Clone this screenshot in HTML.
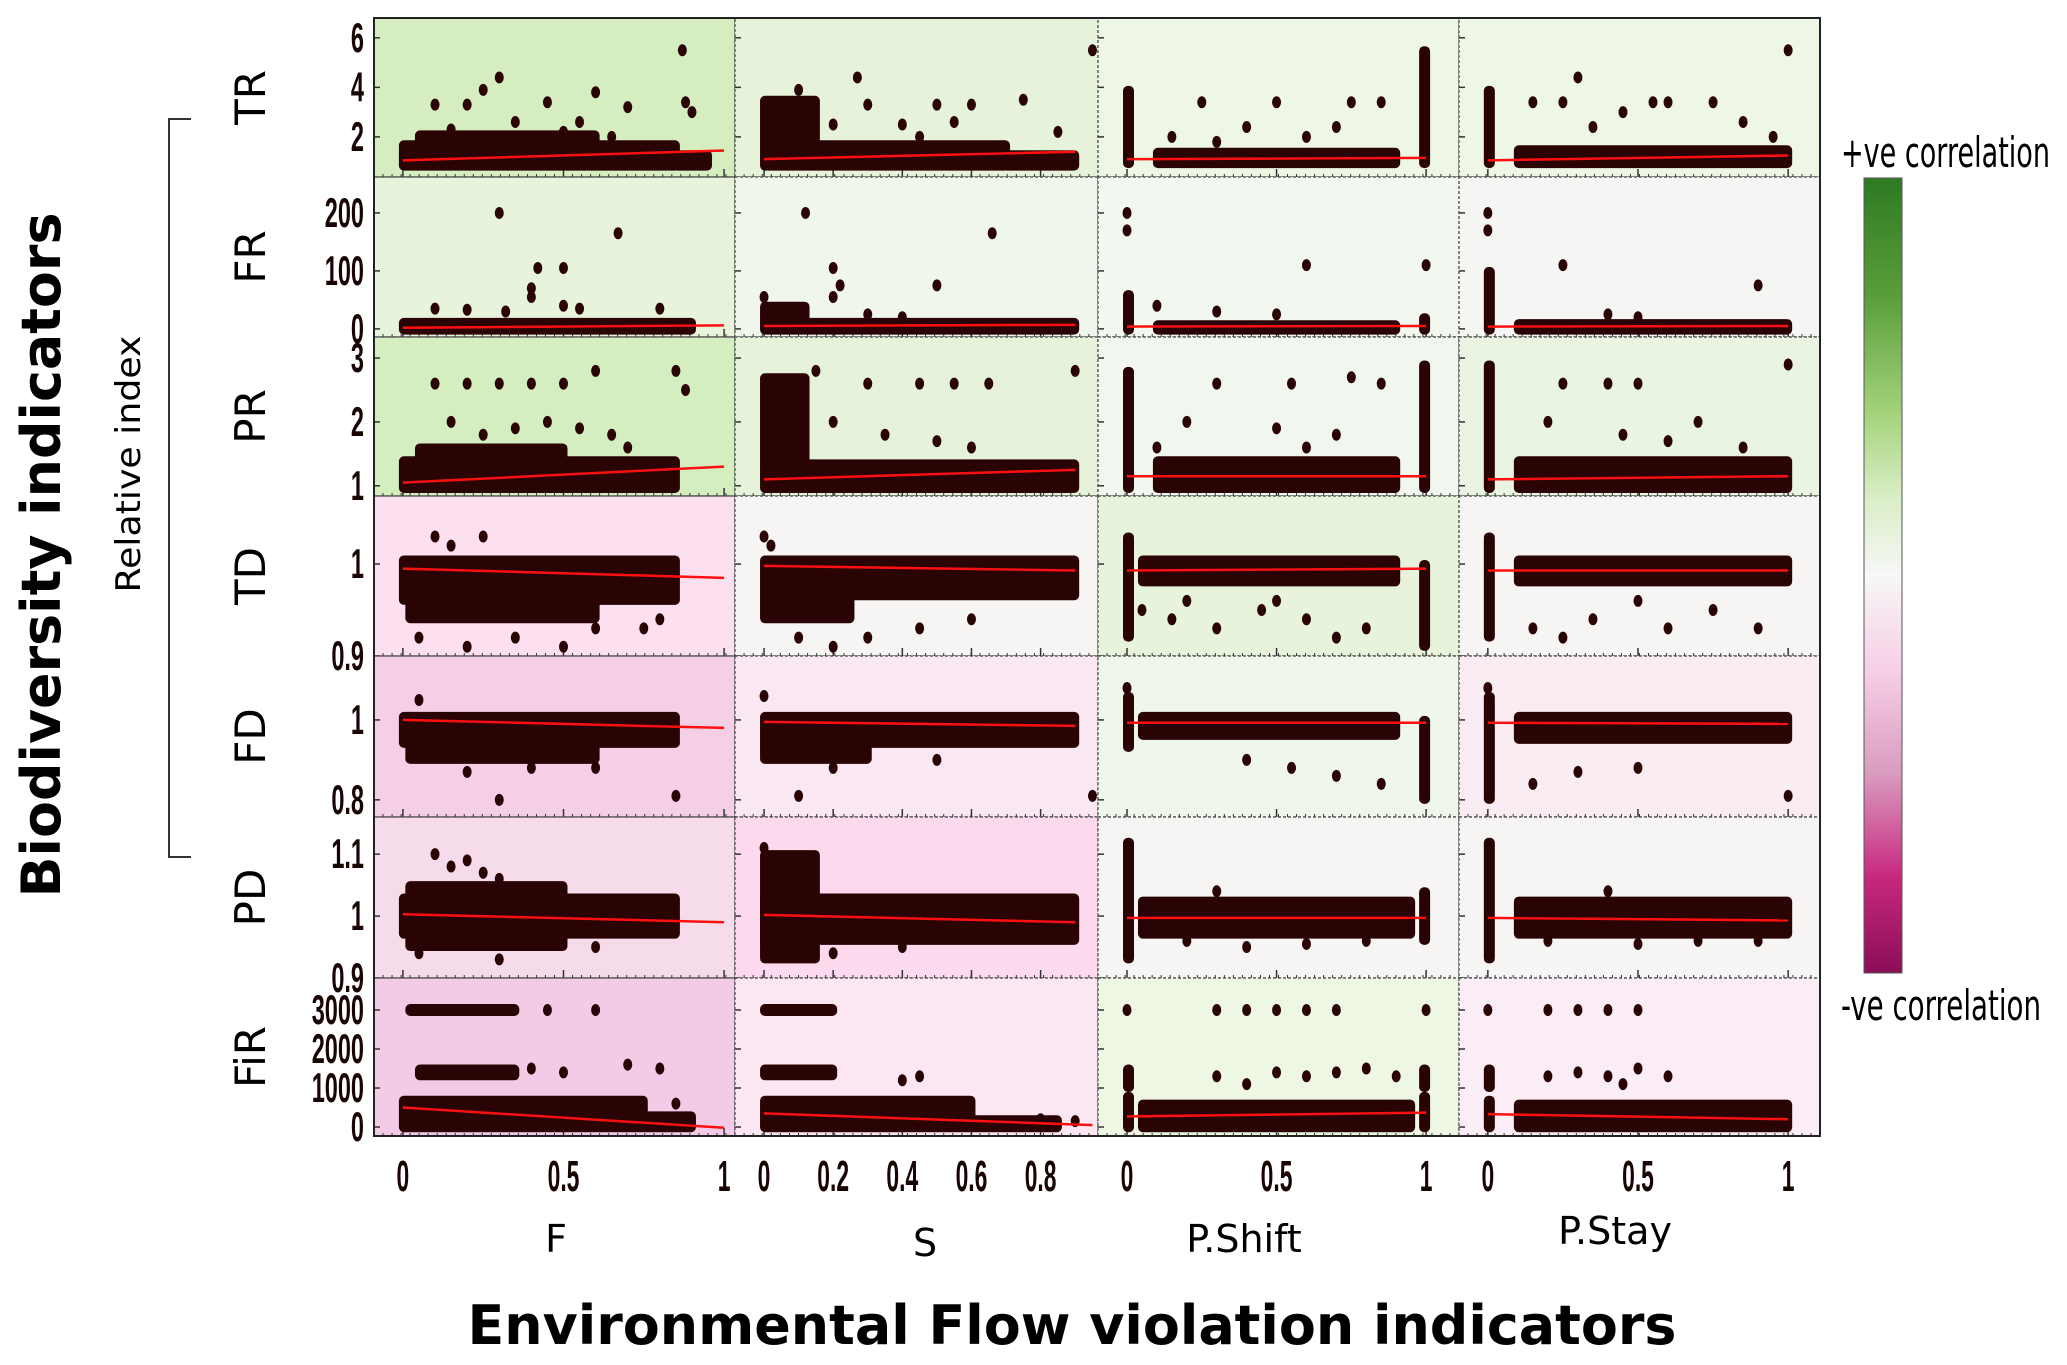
<!DOCTYPE html>
<html><head><meta charset="utf-8"><style>
html,body{margin:0;padding:0;background:#fff;}
svg{display:block;}
text{font-family:"Liberation Sans",sans-serif;}
</style></head><body>
<svg id="chart" width="2067" height="1365" viewBox="0 0 2067 1365">
<defs>
<linearGradient id="cbar" x1="0" y1="0" x2="0" y2="1">
<stop offset="0" stop-color="#2e7a22"/><stop offset="0.15" stop-color="#5a9e3a"/><stop offset="0.3" stop-color="#a6d47e"/><stop offset="0.4" stop-color="#d8edc4"/><stop offset="0.5" stop-color="#f7f7f7"/><stop offset="0.62" stop-color="#f7cfe6"/><stop offset="0.75" stop-color="#d99bbf"/><stop offset="0.88" stop-color="#c8287f"/><stop offset="1" stop-color="#8a0e56"/>
</linearGradient>
</defs>
<g id="plots"></g>
<rect x="1864" y="178" width="38" height="795" fill="url(#cbar)" stroke="#555" stroke-width="1"/>
<text x="1841" y="167" font-size="42" textLength="209" lengthAdjust="spacingAndGlyphs" style="font-family:'DejaVu Sans',sans-serif">+ve correlation</text>
<text x="1841" y="1020" font-size="42" textLength="200" lengthAdjust="spacingAndGlyphs" style="font-family:'DejaVu Sans',sans-serif">-ve correlation</text>
<text x="0" y="0" font-size="54" font-weight="bold" textLength="685" lengthAdjust="spacingAndGlyphs" style="font-family:'DejaVu Sans',sans-serif" transform="translate(60 555) rotate(-90)" text-anchor="middle">Biodiversity indicators</text>
<text x="0" y="0" font-size="34" textLength="257" lengthAdjust="spacingAndGlyphs" style="font-family:'DejaVu Sans',sans-serif" transform="translate(140 464) rotate(-90)" text-anchor="middle">Relative index</text>
<path d="M191 119 H169 V857 H191" fill="none" stroke="#333" stroke-width="2"/>
<text x="1072" y="1344" font-size="54" font-weight="bold" text-anchor="middle" textLength="1209" lengthAdjust="spacingAndGlyphs" style="font-family:'DejaVu Sans',sans-serif">Environmental Flow violation indicators</text>
</svg>
<script>
const rowNames = ["TR","FR","PR","TD","FD","PD","FiR"];
const colNames = ["F","S","P.Shift","P.Stay"];
const yDomains = [[0.38,6.8],[-14,262],[0.84,3.33],[0.9,1.074],[0.757,1.16],[0.9,1.16],[-230,3820]];
const xDomains = [[-0.09,1.034],[-0.084,0.966],[-0.097,1.11],[-0.096,1.106]];
const yTicks = [[2,4,6],[0,100,200],[1,2,3],[0.9,1],[0.8,1],[0.9,1,1.1],[0,1000,2000,3000]];
const xTicks = [[0,0.5,1],[0,0.2,0.4,0.6,0.8],[0,0.5,1],[0,0.5,1]];
const bgColors = [
 ["#d6edc0","#e6f2da","#eef6e6","#eef6e6"],
 ["#e8f3dc","#f0f6ec","#f2f7ef","#f5f5f3"],
 ["#d5eebf","#e6f2da","#f1f7ee","#eaf4e2"],
 ["#fde0f0","#f6f5f3","#e8f3dc","#f6f5f3"],
 ["#f4cfe5","#f9e8f2","#eff6ea","#f9ecf3"],
 ["#f6dcea","#fcd9ec","#f6f5f3","#f6f5f3"],
 ["#f3cbe6","#fce6f1","#eef7e4","#fbedf5"]];
// trend lines [x0,y0,x1,y1]
const trends = [
 [[0,1.05,1,1.45],[0,1.1,0.9,1.4],[0,1.1,1,1.15],[0,1.05,1,1.25]],
 [[0,2,1,6],[0,5,0.9,7],[0,4,1,5],[0,4,1,5]],
 [[0,1.05,1,1.3],[0,1.1,0.9,1.25],[0,1.15,1,1.15],[0,1.1,1,1.15]],
 [[0,0.995,1,0.985],[0,0.998,0.9,0.993],[0,0.993,1,0.995],[0,0.993,1,0.993]],
 [[0,1.0,1,0.98],[0,0.995,0.9,0.985],[0,0.993,1,0.993],[0,0.993,1,0.99]],
 [[0,1.003,1,0.99],[0,1.002,0.9,0.99],[0,0.997,1,0.997],[0,0.997,1,0.993]],
 [[0,500,1,-20],[0,350,0.95,50],[0,270,1,370],[0,330,1,200]]];
// dense point clouds [x0,x1,ylo,yhi]
const bands = [
 [[[0,0.85,0.8,1.7],[0.05,0.6,1.7,2.1],[0.85,0.95,0.8,1.3]],[[0,0.7,0.8,1.7],[0,0.15,1.7,3.5],[0.7,0.9,0.8,1.3]],[[0,0.01,0.9,3.9],[0.99,1,0.9,5.5],[0.1,0.9,0.9,1.4]],[[0,0.01,0.9,3.9],[0.1,1,0.9,1.5]]],
 [[[0,0.9,-3,12]],[[0,0.9,-3,12],[0,0.12,10,40]],[[0,0.01,-3,60],[0.99,1,-3,20],[0.1,0.9,-3,8]],[[0,0.01,-3,100],[0.1,1,-3,10]]],
 [[[0,0.85,0.95,1.4],[0.05,0.5,1.4,1.6]],[[0,0.9,0.95,1.35],[0,0.12,1.3,2.7]],[[0,0.01,0.95,2.8],[0.99,1,0.95,2.9],[0.1,0.9,0.95,1.4]],[[0,0.01,0.95,2.9],[0.1,1,0.95,1.4]]],
 [[[0,0.85,0.96,1.005],[0.02,0.6,0.94,0.96]],[[0,0.9,0.965,1.005],[0,0.25,0.94,0.965]],[[0,0.01,0.92,1.03],[0.99,1,0.91,1.0],[0.05,0.9,0.98,1.005]],[[0,0.01,0.92,1.03],[0.1,1,0.98,1.005]]],
 [[[0,0.85,0.94,1.01],[0.02,0.6,0.9,0.94]],[[0,0.9,0.94,1.01],[0,0.3,0.9,0.94]],[[0,0.01,0.93,1.06],[0.99,1,0.8,1.0],[0.05,0.9,0.96,1.01]],[[0,0.01,0.8,1.06],[0.1,1,0.95,1.01]]],
 [[[0,0.85,0.97,1.03],[0.02,0.5,0.95,1.05]],[[0,0.9,0.96,1.03],[0,0.15,0.93,1.1]],[[0,0.01,0.93,1.12],[0.99,1,0.96,1.04],[0.05,0.95,0.97,1.025]],[[0,0.01,0.93,1.12],[0.1,1,0.97,1.025]]],
 [[[0,0.75,-30,700],[0.75,0.9,-30,300],[0.05,0.35,1300,1500],[0.02,0.35,2950,3050]],[[0,0.6,-30,700],[0.6,0.85,-30,200],[0,0.2,1300,1500],[0,0.2,2950,3050]],[[0,0.01,-30,800],[0,0.01,1000,1500],[0.99,1,-30,800],[0.99,1,1000,1500],[0.05,0.95,-30,600]],[[0,0.01,-30,700],[0,0.01,1000,1500],[0.1,1,-30,600]]]];
// scattered outliers [x,y]
const outliers = [
 [[[0.3,4.4],[0.87,5.5],[0.6,3.8],[0.2,3.3],[0.45,3.4],[0.1,3.3],[0.7,3.2],[0.88,3.4],[0.9,3.0],[0.35,2.6],[0.55,2.6],[0.25,3.9],[0.15,2.3],[0.5,2.2],[0.65,2.0]],
  [[0.27,4.4],[0.95,5.5],[0.1,3.9],[0.3,3.3],[0.5,3.3],[0.6,3.3],[0.75,3.5],[0.2,2.5],[0.4,2.5],[0.55,2.6],[0.85,2.2],[0.45,2.0]],
  [[0.25,3.4],[0.5,3.4],[0.75,3.4],[0.85,3.4],[0.4,2.4],[0.7,2.4],[0.15,2.0],[0.6,2.0],[0.3,1.8]],
  [[0.3,4.4],[1,5.5],[0.15,3.4],[0.25,3.4],[0.55,3.4],[0.6,3.4],[0.75,3.4],[0.45,3.0],[0.85,2.6],[0.35,2.4],[0.95,2.0]]],
 [[[0.3,200],[0.67,165],[0.5,105],[0.42,105],[0.4,70],[0.4,55],[0.1,35],[0.2,33],[0.55,35],[0.8,35],[0.5,40],[0.32,30]],
  [[0.12,200],[0.66,165],[0.2,105],[0.22,75],[0.2,55],[0,55],[0.5,75],[0.3,25],[0.4,20]],
  [[0,200],[0,170],[1,110],[0.1,40],[0.6,110],[0.3,30],[0.5,25]],
  [[0,200],[0,170],[0.25,110],[0.9,75],[0.5,20],[0.4,25]]],
 [[[0.1,2.6],[0.2,2.6],[0.3,2.6],[0.4,2.6],[0.5,2.6],[0.6,2.8],[0.85,2.8],[0.88,2.5],[0.15,2.0],[0.35,1.9],[0.55,1.9],[0.65,1.8],[0.25,1.8],[0.45,2.0],[0.7,1.6]],
  [[0.15,2.8],[0.3,2.6],[0.45,2.6],[0.55,2.6],[0.65,2.6],[0.9,2.8],[0.2,2.0],[0.35,1.8],[0.5,1.7],[0.6,1.6]],
  [[0.3,2.6],[0.55,2.6],[0.75,2.7],[0.85,2.6],[0.2,2.0],[0.5,1.9],[0.7,1.8],[0.1,1.6],[0.6,1.6]],
  [[0.25,2.6],[0.4,2.6],[0.5,2.6],[1,2.9],[0.2,2.0],[0.45,1.8],[0.7,2.0],[0.85,1.6],[0.6,1.7]]],
 [[[0.1,1.03],[0.15,1.02],[0.25,1.03],[0.05,0.92],[0.2,0.91],[0.35,0.92],[0.5,0.91],[0.6,0.93],[0.75,0.93],[0.8,0.94]],
  [[0,1.03],[0.02,1.02],[0.1,0.92],[0.2,0.91],[0.3,0.92],[0.45,0.93],[0.6,0.94]],
  [[0.05,0.95],[0.15,0.94],[0.3,0.93],[0.45,0.95],[0.6,0.94],[0.7,0.92],[0.8,0.93],[0.2,0.96],[0.5,0.96]],
  [[0.15,0.93],[0.25,0.92],[0.35,0.94],[0.6,0.93],[0.9,0.93],[0.5,0.96],[0.75,0.95]]],
 [[[0.05,1.05],[0.3,0.8],[0.85,0.81],[0.6,0.88],[0.2,0.87],[0.4,0.88]],
  [[0,1.06],[0.1,0.81],[0.95,0.81],[0.2,0.88],[0.5,0.9]],
  [[0,1.08],[0.4,0.9],[0.55,0.88],[0.7,0.86],[0.85,0.84]],
  [[0,1.08],[0.15,0.84],[0.3,0.87],[0.5,0.88],[1,0.81]]],
 [[[0.1,1.1],[0.15,1.08],[0.2,1.09],[0.25,1.07],[0.3,1.06],[0.05,0.94],[0.3,0.93],[0.6,0.95],[0.8,0.98]],
  [[0,1.11],[0.02,1.09],[0.1,1.07],[0.2,0.94],[0.4,0.95],[0.7,0.97],[0.85,1.0]],
  [[0.2,0.96],[0.4,0.95],[0.6,0.955],[0.8,0.96],[0.3,1.04]],
  [[0.2,0.96],[0.5,0.955],[0.7,0.96],[0.9,0.96],[0.4,1.04]]],
 [[[0.45,3000],[0.6,3000],[0.4,1500],[0.5,1400],[0.7,1600],[0.8,1500],[0.85,600]],
  [[0.4,1200],[0.45,1300],[0.8,200],[0.9,150]],
  [[0.3,3000],[0.4,3000],[0.5,3000],[0.6,3000],[0.7,3000],[1,3000],[0,3000],[0.3,1300],[0.5,1400],[0.6,1300],[0.7,1400],[0.8,1500],[0.9,1300],[0.4,1100]],
  [[0,3000],[0.2,3000],[0.3,3000],[0.4,3000],[0.5,3000],[0.2,1300],[0.3,1400],[0.4,1300],[0.5,1500],[0.6,1300],[0.45,1100]]]];

const colEdges = [374,735,1098,1459,1820];
const rowEdges = [18,177,337,496,656,817,978,1136];
const NS = "http://www.w3.org/2000/svg";
const root = document.getElementById("plots");
function mk(tag, attrs, parent){const e=document.createElementNS(NS,tag);for(const k in attrs)e.setAttribute(k,attrs[k]);(parent||root).appendChild(e);return e;}
function xScale(c,v){const d=xDomains[c];return colEdges[c]+(v-d[0])/(d[1]-d[0])*(colEdges[c+1]-colEdges[c]);}
function yScale(r,v){const d=yDomains[r];return rowEdges[r+1]-(v-d[0])/(d[1]-d[0])*(rowEdges[r+1]-rowEdges[r]);}
const ink="#2a0404";
for(let r=0;r<rowNames.length;r++){
 for(let c=0;c<colNames.length;c++){
  const g=mk("g",{});
  
  
  const x0=colEdges[c],x1=colEdges[c+1],y0=rowEdges[r],y1=rowEdges[r+1];
  const bg=mk("rect",{x:x0,y:y0,width:x1-x0,height:y1-y0,fill:bgColors[r][c]},g);
  
  
  for(let k=1;k<40;k++){mk("line",{x1:x0+k*(x1-x0)/40,x2:x0+k*(x1-x0)/40,y1:y1-3,y2:y1,stroke:"#333","stroke-width":1},g);}
  xTicks[c].forEach(t=>{const xx=xScale(c,t);mk("line",{x1:xx,x2:xx,y1:y1-8,y2:y1,stroke:"#333","stroke-width":1.5},g);});
  yTicks[r].forEach(t=>{const yy=yScale(r,t);mk("line",{x1:x0,x2:x0+6,y1:yy,y2:yy,stroke:"#333","stroke-width":1.5},g);});
  bands[r][c].forEach(b=>{
   const bx=xScale(c,b[0])-4,bx2=xScale(c,b[1])+4,by=yScale(r,b[3])-4,by2=yScale(r,b[2])+4;
   const e=mk("rect",{x:bx,y:Math.max(by,y0+2),width:bx2-bx,height:Math.min(by2,y1-2)-Math.max(by,y0+2),rx:5,fill:ink},g);
   
   
  });
  outliers[r][c].forEach(p=>{
   const e=mk("ellipse",{cx:xScale(c,p[0]),cy:yScale(r,p[1]),rx:4.5,ry:6,fill:ink},g);
   
   
  });
  const t=trends[r][c];
  const tl=mk("line",{x1:xScale(c,t[0]),y1:yScale(r,t[1]),x2:xScale(c,t[2]),y2:yScale(r,t[3]),stroke:"#ff1010","stroke-width":2.5},g);
  
  
  const br=mk("rect",{x:x0,y:y0,width:x1-x0,height:y1-y0,fill:"none",stroke:"#444","stroke-width":1.2,"stroke-dasharray":c>0?"3 2":"none"},g);
  
  
 }
 yTicks[r].forEach(t=>{
  const yy=yScale(r,t);
  const e=mk("text",{x:0,y:0,"font-size":42,"font-weight":"bold","text-anchor":"end",transform:"translate(364 "+(yy+14)+") scale(0.56 1)",fill:"#1a0505"});
  e.textContent=String(t);
  
  
 });
 const rl=mk("text",{x:0,y:0,"font-size":42,"text-anchor":"middle",style:"font-family:'DejaVu Sans',sans-serif",transform:"translate(265 "+((rowEdges[r]+rowEdges[r+1])/2)+") rotate(-90)"});
 rl.textContent=rowNames[r];
 
 
}
const ob=mk("rect",{x:374,y:18,width:1446,height:1118,fill:"none",stroke:"#222","stroke-width":2});


const titleX=[556,925,1244,1615], titleY=[1252,1256,1252,1244];
for(let c=0;c<colNames.length;c++){
 xTicks[c].forEach(t=>{
  const e=mk("text",{x:0,y:0,"font-size":44,"font-weight":"bold","text-anchor":"middle",transform:"translate("+xScale(c,t)+" 1191) scale(0.52 1)",fill:"#1a0505"});
  e.textContent=String(t);
  
  
 });
 const ct=mk("text",{x:titleX[c],y:titleY[c],"font-size":38,"text-anchor":"middle",style:"font-family:'DejaVu Sans',sans-serif"});
 ct.textContent=colNames[c];
 
 
}
</script>
</body></html>
